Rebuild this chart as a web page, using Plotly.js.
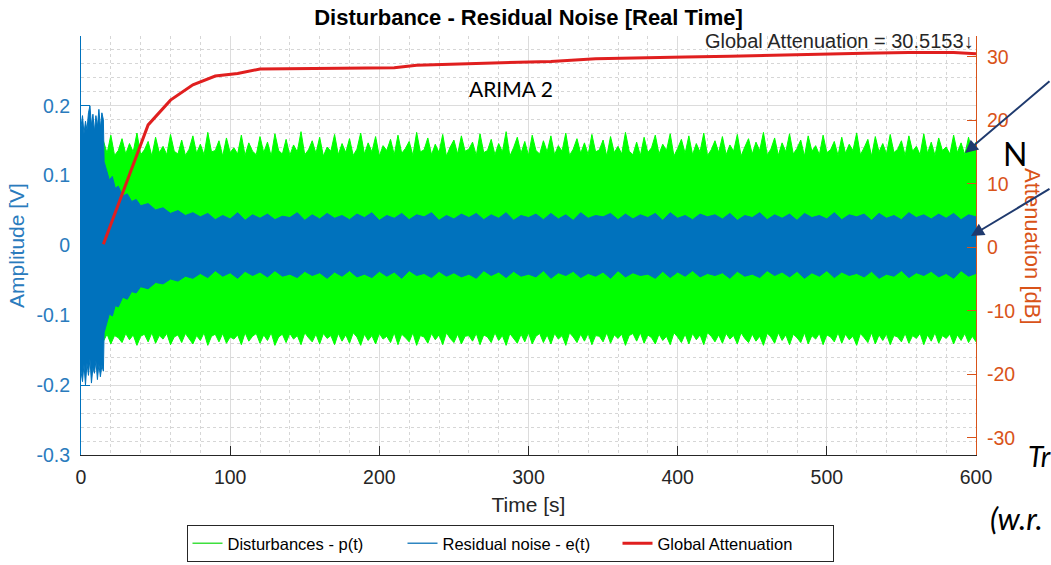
<!DOCTYPE html>
<html><head><meta charset="utf-8">
<script src="https://cdn.plot.ly/plotly-3.0.1.min.js"></script>
<style>html,body{margin:0;padding:0;background:#fff}#chart{width:1051px;height:565px}</style>
</head><body><div id="chart"></div>
<script>
// Disturbance p(t) envelope
const tDist = [15,17.5,20,22.5,25,27.5,30,32.5,35,37.5,40,42.5,45,47.5,50,52.5,55,57.5,60,62.5,
65,67.5,70,72.5,75,77.5,80,82.5,85,87.5,90,92.5,95,97.5,100,102.5,105,107.5,110,112.5,
115,117.5,120,122.5,125,127.5,130,132.5,135,137.5,140,142.5,145,147.5,150,152.5,155,157.5,160,162.5,
165,167.5,170,172.5,175,177.5,180,182.5,185,187.5,190,192.5,195,197.5,200,202.5,205,207.5,210,212.5,
215,217.5,220,222.5,225,227.5,230,232.5,235,237.5,240,242.5,245,247.5,250,252.5,255,257.5,260,262.5,
265,267.5,270,272.5,275,277.5,280,282.5,285,287.5,290,292.5,295,297.5,300,302.5,305,307.5,310,312.5,
315,317.5,320,322.5,325,327.5,330,332.5,335,337.5,340,342.5,345,347.5,350,352.5,355,357.5,360,362.5,
365,367.5,370,372.5,375,377.5,380,382.5,385,387.5,390,392.5,395,397.5,400,402.5,405,407.5,410,412.5,
415,417.5,420,422.5,425,427.5,430,432.5,435,437.5,440,442.5,445,447.5,450,452.5,455,457.5,460,462.5,
465,467.5,470,472.5,475,477.5,480,482.5,485,487.5,490,492.5,495,497.5,500,502.5,505,507.5,510,512.5,
515,517.5,520,522.5,525,527.5,530,532.5,535,537.5,540,542.5,545,547.5,550,552.5,555,557.5,560,562.5,
565,567.5,570,572.5,575,577.5,580,582.5,585,587.5,590,592.5,595,597.5,600];
const distUpper = [0.150,0.132,0.158,0.129,0.136,0.153,0.131,0.146,0.134,0.161,0.130,0.137,0.149,0.128,0.155,0.133,0.142,0.130,0.159,0.135,
0.131,0.151,0.129,0.138,0.157,0.132,0.145,0.130,0.162,0.134,0.136,0.150,0.128,0.154,0.133,0.140,0.131,0.158,0.129,0.147,
0.135,0.130,0.156,0.133,0.148,0.128,0.160,0.136,0.131,0.152,0.129,0.144,0.134,0.163,0.130,0.137,0.150,0.132,0.155,0.128,
0.141,0.135,0.159,0.130,0.146,0.133,0.153,0.129,0.138,0.161,0.131,0.147,0.134,0.156,0.128,0.143,0.136,0.152,0.130,0.158,
0.132,0.139,0.149,0.129,0.162,0.134,0.137,0.154,0.130,0.145,0.133,0.159,0.128,0.141,0.151,0.131,0.157,0.135,0.138,0.148,
0.129,0.160,0.133,0.136,0.152,0.130,0.146,0.134,0.163,0.128,0.140,0.155,0.132,0.149,0.129,0.158,0.136,0.131,0.150,0.134,
0.157,0.130,0.143,0.135,0.161,0.129,0.138,0.153,0.132,0.147,0.130,0.159,0.134,0.137,0.151,0.128,0.156,0.133,0.142,0.131,
0.162,0.135,0.130,0.148,0.129,0.155,0.133,0.140,0.158,0.131,0.145,0.136,0.160,0.128,0.139,0.152,0.132,0.157,0.130,0.146,
0.134,0.161,0.129,0.137,0.150,0.133,0.156,0.130,0.144,0.135,0.159,0.128,0.141,0.153,0.131,0.148,0.136,0.162,0.130,0.138,
0.154,0.129,0.147,0.134,0.160,0.131,0.139,0.151,0.128,0.157,0.135,0.143,0.130,0.158,0.133,0.137,0.149,0.129,0.155,0.132,
0.145,0.136,0.161,0.130,0.140,0.152,0.128,0.156,0.134,0.146,0.131,0.159,0.133,0.138,0.150,0.129,0.157,0.135,0.142,0.130,
0.160,0.132,0.148,0.129,0.154,0.136,0.141,0.131,0.158,0.133,0.147,0.130,0.155,0.134,0.148];
const distLower = [-0.137,-0.127,-0.141,-0.129,-0.132,-0.139,-0.126,-0.135,-0.128,-0.143,-0.130,-0.127,-0.138,-0.125,-0.140,-0.129,-0.134,-0.126,-0.142,-0.131,
-0.128,-0.139,-0.126,-0.133,-0.141,-0.129,-0.136,-0.125,-0.143,-0.130,-0.127,-0.138,-0.126,-0.140,-0.131,-0.134,-0.128,-0.142,-0.125,-0.137,
-0.130,-0.126,-0.140,-0.128,-0.136,-0.125,-0.143,-0.131,-0.127,-0.139,-0.126,-0.134,-0.129,-0.142,-0.125,-0.132,-0.138,-0.127,-0.141,-0.126,
-0.133,-0.129,-0.142,-0.126,-0.137,-0.128,-0.140,-0.125,-0.131,-0.143,-0.127,-0.136,-0.129,-0.141,-0.126,-0.134,-0.130,-0.139,-0.125,-0.142,
-0.127,-0.132,-0.138,-0.125,-0.143,-0.129,-0.131,-0.140,-0.126,-0.135,-0.128,-0.142,-0.125,-0.133,-0.139,-0.127,-0.141,-0.130,-0.129,-0.137,
-0.126,-0.142,-0.128,-0.131,-0.139,-0.125,-0.136,-0.129,-0.143,-0.126,-0.133,-0.140,-0.127,-0.138,-0.125,-0.141,-0.130,-0.126,-0.139,-0.128,
-0.141,-0.126,-0.134,-0.129,-0.143,-0.125,-0.131,-0.139,-0.127,-0.137,-0.126,-0.142,-0.129,-0.130,-0.138,-0.125,-0.140,-0.128,-0.133,-0.127,
-0.143,-0.129,-0.126,-0.137,-0.125,-0.140,-0.128,-0.132,-0.141,-0.127,-0.136,-0.130,-0.142,-0.125,-0.131,-0.139,-0.127,-0.141,-0.126,-0.135,
-0.128,-0.142,-0.125,-0.130,-0.138,-0.128,-0.140,-0.126,-0.134,-0.129,-0.141,-0.125,-0.133,-0.139,-0.127,-0.137,-0.130,-0.143,-0.126,-0.131,
-0.140,-0.125,-0.136,-0.128,-0.142,-0.127,-0.132,-0.139,-0.125,-0.141,-0.129,-0.134,-0.126,-0.142,-0.128,-0.131,-0.138,-0.125,-0.140,-0.127,
-0.135,-0.130,-0.143,-0.126,-0.132,-0.139,-0.125,-0.141,-0.128,-0.136,-0.127,-0.142,-0.129,-0.131,-0.138,-0.126,-0.140,-0.129,-0.133,-0.126,
-0.142,-0.128,-0.137,-0.125,-0.140,-0.129,-0.133,-0.127,-0.141,-0.128,-0.136,-0.126,-0.139,-0.130,-0.138];

// Residual noise e(t) envelope
const tResid = [0,1,2,3,4,5,6,7,8,9,10,11,12,13,14,15,15.5,
17,19,21,23,25,28,31,34,37,40,45,50,55,60,65,70,75,
80,85,90,95,100,105,110,115,120,125,130,135,140,145,150,155,160,165,170,175,
180,185,190,195,200,205,210,215,220,225,230,235,240,245,250,255,260,265,270,275,
280,285,290,295,300,305,310,315,320,325,330,335,340,345,350,355,360,365,370,375,
380,385,390,395,400,405,410,415,420,425,430,435,440,445,450,455,460,465,470,475,
480,485,490,495,500,505,510,515,520,525,530,535,540,545,550,555,560,565,570,575,
580,585,590,595,600];
const residUpper = [0.170,0.186,0.160,0.178,0.165,0.190,0.200,0.172,0.188,0.163,0.186,0.170,0.195,0.168,0.190,0.180,0.120,
0.108,0.094,0.099,0.082,0.085,0.071,0.074,0.063,0.066,0.057,0.060,0.051,0.054,0.046,0.050,0.043,0.047,
0.041,0.046,0.037,0.043,0.038,0.047,0.036,0.044,0.039,0.045,0.037,0.042,0.040,0.047,0.036,0.044,0.038,0.046,0.039,0.043,
0.037,0.045,0.040,0.047,0.036,0.043,0.039,0.046,0.037,0.044,0.041,0.047,0.036,0.043,0.038,0.045,0.040,0.046,0.037,0.044,
0.039,0.047,0.036,0.043,0.040,0.045,0.037,0.046,0.038,0.044,0.036,0.047,0.039,0.043,0.041,0.046,0.037,0.045,0.038,0.044,
0.040,0.046,0.036,0.047,0.039,0.043,0.037,0.045,0.041,0.044,0.038,0.046,0.036,0.043,0.040,0.047,0.037,0.044,0.039,0.045,
0.036,0.046,0.040,0.043,0.038,0.047,0.037,0.044,0.041,0.045,0.036,0.046,0.039,0.043,0.037,0.047,0.040,0.044,0.038,0.045,
0.039,0.046,0.037,0.044,0.041];
const residLower = [-0.180,-0.195,-0.170,-0.200,-0.168,-0.186,-0.162,-0.197,-0.175,-0.183,-0.165,-0.192,-0.170,-0.188,-0.172,-0.180,-0.125,
-0.112,-0.098,-0.101,-0.086,-0.088,-0.074,-0.077,-0.066,-0.068,-0.059,-0.062,-0.053,-0.055,-0.048,-0.051,-0.044,-0.047,
-0.040,-0.046,-0.036,-0.044,-0.039,-0.047,-0.037,-0.043,-0.038,-0.045,-0.036,-0.044,-0.041,-0.046,-0.037,-0.043,-0.039,-0.047,-0.038,-0.044,
-0.036,-0.045,-0.041,-0.046,-0.037,-0.044,-0.038,-0.047,-0.036,-0.043,-0.040,-0.046,-0.037,-0.044,-0.039,-0.045,-0.041,-0.047,-0.036,-0.043,
-0.038,-0.046,-0.037,-0.044,-0.041,-0.045,-0.036,-0.047,-0.039,-0.043,-0.037,-0.046,-0.040,-0.044,-0.038,-0.047,-0.036,-0.045,-0.039,-0.043,
-0.041,-0.047,-0.037,-0.046,-0.038,-0.044,-0.036,-0.045,-0.040,-0.043,-0.039,-0.047,-0.037,-0.044,-0.041,-0.046,-0.036,-0.043,-0.038,-0.045,
-0.037,-0.047,-0.039,-0.044,-0.036,-0.046,-0.038,-0.043,-0.040,-0.045,-0.037,-0.047,-0.041,-0.044,-0.036,-0.046,-0.039,-0.043,-0.037,-0.045,
-0.040,-0.047,-0.036,-0.044,-0.040];

// Global attenuation (dB)
const tAtt = [15,45,60,75,90,105,120,150,180,210,225,255,285,315,345,375,405,435,465,495,525,555,585,600];
const attenuation = [0.5,19.3,23.2,25.6,27.0,27.4,28.1,28.2,28.3,28.3,28.7,28.9,29.1,29.3,29.7,29.9,30.0,30.1,30.3,30.4,30.6,30.7,30.7,30.5];
const globalAttenuation = 30.5153;

// Tick labels
const xTicks = [0,100,200,300,400,500,600];
const ampTicks = [-0.3,-0.2,-0.1,0,0.1,0.2];
const ampLabels = ['-0.3','-0.2','-0.1','0','0.1','0.2'];
const attTicks = [-30,-20,-10,0,10,20,30];
const attLabels = ['-30','-20','-10','0','10','20','30'];
const seriesNames = ['Disturbances - p(t)','Residual noise - e(t)','Global Attenuation'];

const GREEN = '#00ff00', BLUE = '#0072bd', ORANGE = '#d95319', RED = '#e01f1f';
const FONT = 'Liberation Sans, Arial, Helvetica, sans-serif';
const SLIDE = 'Lato, Carlito, Liberation Sans, sans-serif';

const data = [
  {x:tDist, y:distUpper, mode:'lines', line:{color:GREEN,width:1}, showlegend:false, hoverinfo:'skip'},
  {x:tDist, y:distLower, mode:'lines', fill:'tonexty', fillcolor:GREEN, line:{color:GREEN,width:1}, showlegend:false, hoverinfo:'skip'},
  {x:tResid, y:residUpper, mode:'lines', line:{color:BLUE,width:1}, showlegend:false, hoverinfo:'skip'},
  {x:tResid, y:residLower, mode:'lines', fill:'tonexty', fillcolor:BLUE, line:{color:BLUE,width:1}, showlegend:false, hoverinfo:'skip'},
  {x:[null], y:[null], mode:'lines', name:seriesNames[0], line:{color:'#3ee03e',width:1.5}},
  {x:[null], y:[null], mode:'lines', name:seriesNames[1], line:{color:'#2e86c1',width:1.5}},
  {x:tAtt, y:attenuation, yaxis:'y2', mode:'lines', name:seriesNames[2], line:{color:RED,width:3}}
];

const L = 81, R = 976, T = 36, B = 455;
const px = v => (v - L) / (R - L);
const py = v => (B - v) / (B - T);

const layout = {
  width:1051, height:565,
  margin:{l:81, r:75, t:36, b:110},
  paper_bgcolor:'#fff', plot_bgcolor:'#fff',
  font:{family:FONT, size:16, color:'#262626'},
  showlegend:true,
  title:{text:'<b>Disturbance - Residual Noise [Real Time]</b>', font:{family:FONT, size:22, color:'#000'},
         xref:'paper', x:0.5, xanchor:'center', yref:'container', y:1-17/565, yanchor:'middle'},
  xaxis:{range:[0,600], tickvals:xTicks, ticks:'inside', ticklen:9, tickcolor:'#262626',
         showline:true, linecolor:'#262626', linewidth:1, zeroline:false, automargin:false,
         showgrid:true, gridcolor:'#dcdcdc', gridwidth:1,
         minor:{dtick:20, showgrid:true, gridcolor:'#d6d6d6', griddash:'dot', gridwidth:1},
         tickfont:{size:19.5, color:'#262626'}, ticklabelstandoff:5,
         title:{text:'Time [s]', font:{size:21, color:'#262626'}, standoff:9}},
  yaxis:{range:[-0.3,0.3], tickvals:ampTicks, ticktext:ampLabels, ticks:'inside', ticklen:9, tickcolor:BLUE,
         showline:true, linecolor:BLUE, linewidth:1, zeroline:false, automargin:false,
         showgrid:true, gridcolor:'#dcdcdc', gridwidth:1,
         minor:{dtick:0.02, showgrid:true, gridcolor:'#d6d6d6', griddash:'dot', gridwidth:1},
         tickfont:{size:19.5, color:'#2a7bbd'}, ticklabelstandoff:6,
         title:{text:'Amplitude [V]', font:{size:21, color:'#2a7bbd'}, standoff:6}},
  yaxis2:{overlaying:'y', side:'right', range:[-32.7,33.3], tickvals:attTicks, ticktext:attLabels,
          ticks:'inside', ticklen:9, tickcolor:ORANGE, showline:true, linecolor:ORANGE, linewidth:1,
          showgrid:false, zeroline:false, automargin:false, tickfont:{size:19.5, color:ORANGE}, ticklabelstandoff:6},
  legend:{orientation:'h', xref:'paper', x:px(510), xanchor:'center', yref:'container', y:3/565, yanchor:'bottom',
          bordercolor:'#262626', borderwidth:1, bgcolor:'#fff', font:{size:16.5, color:'#000'}, traceorder:'normal',
          entrywidth:170, entrywidthmode:'pixels'},
  annotations:[
    {xref:'x', yref:'y2', x:600, y:globalAttenuation, xanchor:'right', yanchor:'bottom', showarrow:false,
     text:'Global Attenuation = ' + globalAttenuation.toFixed(4) + '\u2193', font:{family:FONT, size:20, color:'#262626'}},
    {xref:'paper', yref:'paper', x:px(1033), y:py(246), xanchor:'center', yanchor:'middle', textangle:90, showarrow:false,
     text:'Attenuation [dB]', font:{family:FONT, size:22, color:ORANGE}},
    {xref:'paper', yref:'paper', x:px(511), y:py(88), xanchor:'center', yanchor:'middle', showarrow:false, text:'ARIMA 2',
     font:{family:SLIDE, size:21, color:'#000'}},
    {xref:'paper', yref:'paper', x:px(1001), y:py(153), xanchor:'left', yanchor:'middle', showarrow:false, text:'N',
     font:{family:SLIDE, size:32, color:'#000'}},
    {xref:'paper', yref:'paper', x:px(1026), y:py(456), xanchor:'left', yanchor:'middle', showarrow:false, text:'<i>Tr</i>',
     font:{family:SLIDE, size:28, color:'#000'}},
    {xref:'paper', yref:'paper', x:px(988), y:py(518), xanchor:'left', yanchor:'middle', showarrow:false, text:'<i>(w.r.</i>',
     font:{family:SLIDE, size:31, color:'#000'}},
    {xref:'paper', yref:'paper', x:px(965), y:py(153), text:'', showarrow:true, ax:110, ay:-73,
     arrowcolor:'#1f3a6e', arrowwidth:2, arrowhead:2, arrowsize:1.3},
    {xref:'paper', yref:'paper', x:px(971), y:py(236), text:'', showarrow:true, ax:100, ay:-48,
     arrowcolor:'#1f3a6e', arrowwidth:2, arrowhead:2, arrowsize:1.3}
  ]
};

Plotly.newPlot('chart', data, layout, {displayModeBar:false, responsive:false, staticPlot:true});
</script>
</body></html>
